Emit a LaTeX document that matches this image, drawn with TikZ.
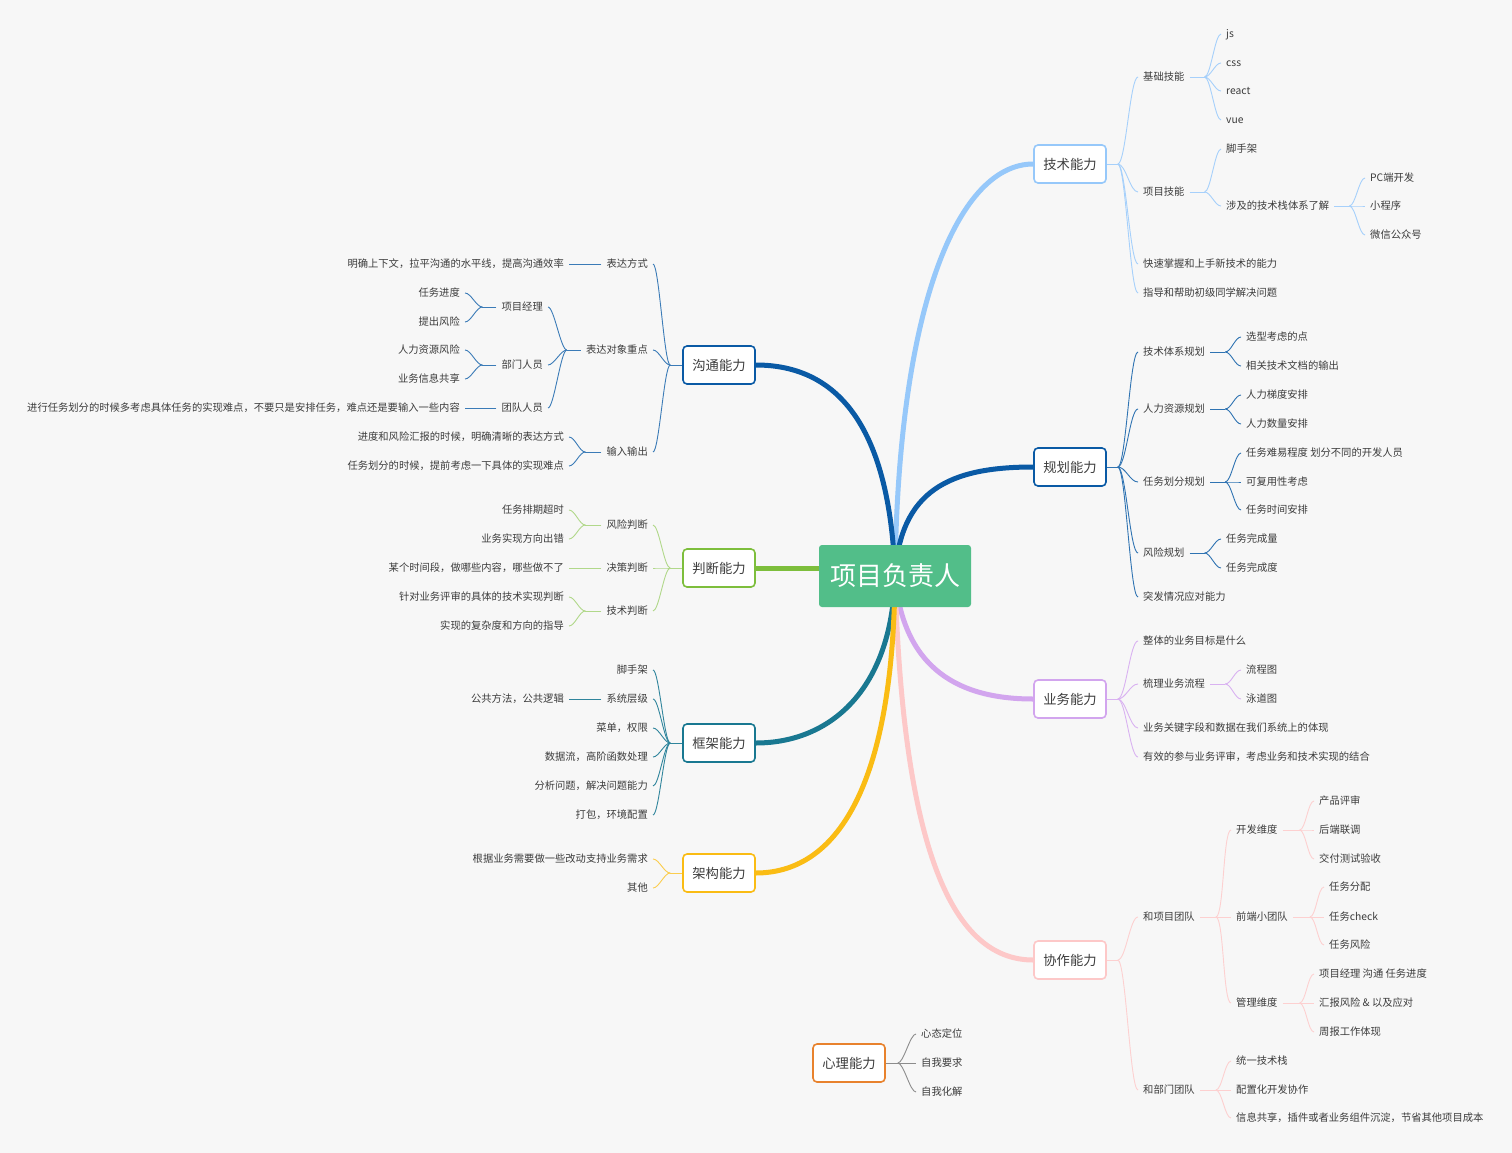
\documentclass[tikz,border=0pt]{standalone}
\usepackage{fontspec}
\setmainfont{Noto Sans CJK SC}
\usepackage{xcolor}
\definecolor{bgcol}{RGB}{247,247,247}
\definecolor{rootgreen}{RGB}{82,190,137}
\definecolor{techblue}{RGB}{150,200,250}
\definecolor{darkblue}{RGB}{10,90,165}
\definecolor{judgegreen}{RGB}{125,190,60}
\definecolor{frameteal}{RGB}{25,120,145}
\definecolor{archyellow}{RGB}{250,188,20}
\definecolor{bizpurple}{RGB}{210,165,238}
\definecolor{coppink}{RGB}{253,200,200}
\definecolor{mindorange}{RGB}{232,130,45}
\definecolor{txtgray}{RGB}{60,60,60}
\usepackage{tikz}
\usetikzlibrary{positioning,calc,backgrounds}
\tikzset{
  rootbox/.style={rectangle,rounded corners=3pt,fill=rootgreen,text=white,
    minimum width=152pt,minimum height=62pt,font=\fontsize{26}{30}\selectfont},
  topic/.style={rectangle,rounded corners=4pt,draw=#1,fill=white,line width=1.6pt,
    text=txtgray,minimum width=72pt,minimum height=38pt,font=\fontsize{13.3}{16}\selectfont},
  rt/.style={anchor=west,inner xsep=5pt,inner ysep=1pt,text height=9pt,text depth=2.2pt,
    text=txtgray,font=\fontsize{10.3}{12}\selectfont},
  lf/.style={rt,anchor=east},
  trunk/.style={line width=5pt,line cap=round},
  brR/.style={to path={.. controls ($(\tikztostart)+(#1,0)$) and ($(\tikztotarget)+(-#1,0)$) .. (\tikztotarget)}},
  brR/.default=8,
  brL/.style={to path={.. controls ($(\tikztostart)+(-#1,0)$) and ($(\tikztotarget)+(#1,0)$) .. (\tikztotarget)}},
  brL/.default=8,
  lT/.style={draw=techblue!85,line width=0.9pt},
  lP/.style={draw=darkblue!85,line width=0.9pt},
  lB/.style={draw=bizpurple!85,line width=0.9pt},
  lO/.style={draw=coppink!85,line width=0.9pt},
  lC/.style={draw=darkblue!80,line width=0.9pt},
  lJ/.style={draw=judgegreen!60,line width=0.9pt},
  lF/.style={draw=frameteal!90,line width=0.9pt},
  lA/.style={draw=archyellow!75,line width=0.9pt},
  lM/.style={draw=black!45,line width=0.9pt},
}
\begin{document}
\begin{tikzpicture}[x=1pt,y=-1pt]
  \useasboundingbox (0,0) rectangle (1512,1153);
  % --- centre ---
  \node[rootbox] (root) at (895,576) {项目负责人};
  % --- main topics ---
  \node[topic=techblue]   (tech)  at (1070,164) {技术能力};
  \node[topic=darkblue]   (plan)  at (1070,467) {规划能力};
  \node[topic=bizpurple]  (biz)   at (1070,699) {业务能力};
  \node[topic=coppink]    (coop)  at (1070,960) {协作能力};
  \node[topic=darkblue]   (comm)  at (719,365)  {沟通能力};
  \node[topic=judgegreen] (judge) at (719,568)  {判断能力};
  \node[topic=frameteal]  (frame) at (719,743)  {框架能力};
  \node[topic=archyellow] (arch)  at (719,873)  {架构能力};
  \node[topic=mindorange] (mind)  at (849,1063) {心理能力};

  % --- 技术能力 ---
  \node[rt] (t1) at (1138,77)  {基础技能};
  \node[rt] (t2) at (1138,192) {项目技能};
  \node[rt] (t3) at (1138,264) {快速掌握和上手新技术的能力};
  \node[rt] (t4) at (1138,293) {指导和帮助初级同学解决问题};
  \foreach \n/\y in {js/34,css/63,react/91,vue/120}{
    \node[rt] (\n) at (1221,\y) {\n};}
  \node[rt] (t21) at (1221,149) {脚手架};
  \node[rt] (t22) at (1221,206) {涉及的技术栈体系了解};
  \node[rt] (pc) at (1365,178) {PC端开发};
  \node[rt] (mp) at (1365,206) {小程序};
  \node[rt] (wx) at (1365,235) {微信公众号};
  \draw[lT] (tech.east) -- ++(11,0) coordinate (fT);
  \foreach \c in {t1,t2,t3,t4}{\draw[lT,brR] (fT) to (\c.west);}
  \draw[lT] (t1.east) -- ++(15,0) coordinate (fT1);
  \foreach \c in {js,css,react,vue}{\draw[lT,brR=6] (fT1) to (\c.west);}
  \draw[lT] (t2.east) -- ++(15,0) coordinate (fT2);
  \foreach \c in {t21,t22}{\draw[lT,brR=6] (fT2) to (\c.west);}
  \draw[lT] (t22.east) -- ++(15,0) coordinate (fT22);
  \foreach \c in {pc,mp,wx}{\draw[lT,brR=6] (fT22) to (\c.west);}

  % --- 规划能力 ---
  \node[rt] (p1) at (1138,352) {技术体系规划};
  \node[rt] (p2) at (1138,409) {人力资源规划};
  \node[rt] (p3) at (1138,482) {任务划分规划};
  \node[rt] (p4) at (1138,553) {风险规划};
  \node[rt] (p5) at (1138,597) {突发情况应对能力};
  \node[rt] (p11) at (1241,337) {选型考虑的点};
  \node[rt] (p12) at (1241,366) {相关技术文档的输出};
  \node[rt] (p21) at (1241,395) {人力梯度安排};
  \node[rt] (p22) at (1241,424) {人力数量安排};
  \node[rt] (p31) at (1241,453) {任务难易程度 划分不同的开发人员};
  \node[rt] (p32) at (1241,482) {可复用性考虑};
  \node[rt] (p33) at (1241,510) {任务时间安排};
  \node[rt] (p41) at (1221,539) {任务完成量};
  \node[rt] (p42) at (1221,568) {任务完成度};
  \draw[lP] (plan.east) -- ++(11,0) coordinate (fP);
  \foreach \c in {p1,p2,p3,p4,p5}{\draw[lP,brR] (fP) to (\c.west);}
  \draw[lP] (p1.east) -- ++(15,0) coordinate (fP1);
  \foreach \c in {p11,p12}{\draw[lP,brR=6] (fP1) to (\c.west);}
  \draw[lP] (p2.east) -- ++(15,0) coordinate (fP2);
  \foreach \c in {p21,p22}{\draw[lP,brR=6] (fP2) to (\c.west);}
  \draw[lP] (p3.east) -- ++(15,0) coordinate (fP3);
  \foreach \c in {p31,p32,p33}{\draw[lP,brR=6] (fP3) to (\c.west);}
  \draw[lP] (p4.east) -- ++(15,0) coordinate (fP4);
  \foreach \c in {p41,p42}{\draw[lP,brR=6] (fP4) to (\c.west);}

  % --- 业务能力 ---
  \node[rt] (b1) at (1138,641) {整体的业务目标是什么};
  \node[rt] (b2) at (1138,684) {梳理业务流程};
  \node[rt] (b3) at (1138,728) {业务关键字段和数据在我们系统上的体现};
  \node[rt] (b4) at (1138,757) {有效的参与业务评审，考虑业务和技术实现的结合};
  \node[rt] (b21) at (1241,670) {流程图};
  \node[rt] (b22) at (1241,699) {泳道图};
  \draw[lB] (biz.east) -- ++(11,0) coordinate (fB);
  \foreach \c in {b1,b2,b3,b4}{\draw[lB,brR] (fB) to (\c.west);}
  \draw[lB] (b2.east) -- ++(15,0) coordinate (fB2);
  \foreach \c in {b21,b22}{\draw[lB,brR=6] (fB2) to (\c.west);}

  % --- 协作能力 ---
  \node[rt] (o1) at (1138,917)  {和项目团队};
  \node[rt] (o2) at (1138,1090) {和部门团队};
  \node[rt] (o11) at (1231,830)  {开发维度};
  \node[rt] (o12) at (1231,917)  {前端小团队};
  \node[rt] (o13) at (1231,1003) {管理维度};
  \node[rt] (o111) at (1314,801) {产品评审};
  \node[rt] (o112) at (1314,830) {后端联调};
  \node[rt] (o113) at (1314,859) {交付测试验收};
  \node[rt] (o121) at (1324,887) {任务分配};
  \node[rt] (o122) at (1324,917) {任务check};
  \node[rt] (o123) at (1324,945) {任务风险};
  \node[rt] (o131) at (1314,974)  {项目经理 沟通 任务进度};
  \node[rt] (o132) at (1314,1003) {汇报风险 \& 以及应对};
  \node[rt] (o133) at (1314,1032) {周报工作体现};
  \node[rt] (o21) at (1231,1061) {统一技术栈};
  \node[rt] (o22) at (1231,1090) {配置化开发协作};
  \node[rt] (o23) at (1231,1118) {信息共享，插件或者业务组件沉淀，节省其他项目成本};
  \draw[lO] (coop.east) -- ++(11,0) coordinate (fO);
  \foreach \c in {o1,o2}{\draw[lO,brR] (fO) to (\c.west);}
  \draw[lO] (o1.east) -- ++(16,0) coordinate (fO1);
  \foreach \c in {o11,o12,o13}{\draw[lO,brR] (fO1) to (\c.west);}
  \draw[lO] (o11.east) -- ++(17,0) coordinate (fO11);
  \foreach \c in {o111,o112,o113}{\draw[lO,brR=6] (fO11) to (\c.west);}
  \draw[lO] (o12.east) -- ++(17,0) coordinate (fO12);
  \foreach \c in {o121,o122,o123}{\draw[lO,brR=6] (fO12) to (\c.west);}
  \draw[lO] (o13.east) -- ++(17,0) coordinate (fO13);
  \foreach \c in {o131,o132,o133}{\draw[lO,brR=6] (fO13) to (\c.west);}
  \draw[lO] (o2.east) -- ++(16,0) coordinate (fO2);
  \foreach \c in {o21,o22,o23}{\draw[lO,brR=6] (fO2) to (\c.west);}

  % --- 沟通能力 ---
  \node[lf] (c1) at (653,264) {表达方式};
  \node[lf] (c2) at (653,350) {表达对象重点};
  \node[lf] (c3) at (653,452) {输入输出};
  \node[lf] (c11) at (569,264) {明确上下文，拉平沟通的水平线，提高沟通效率};
  \node[lf] (c21) at (548,307) {项目经理};
  \node[lf] (c22) at (548,365) {部门人员};
  \node[lf] (c23) at (548,408) {团队人员};
  \node[lf] (c211) at (465,293) {任务进度};
  \node[lf] (c212) at (465,322) {提出风险};
  \node[lf] (c221) at (465,350) {人力资源风险};
  \node[lf] (c222) at (465,379) {业务信息共享};
  \node[lf] (c231) at (465,408) {进行任务划分的时候多考虑具体任务的实现难点，不要只是安排任务，难点还是要输入一些内容};
  \node[lf] (c31) at (569,437) {进度和风险汇报的时候，明确清晰的表达方式};
  \node[lf] (c32) at (569,466) {任务划分的时候，提前考虑一下具体的实现难点};
  \draw[lC] (comm.west) -- ++(-12,0) coordinate (fC);
  \foreach \c in {c1,c2,c3}{\draw[lC,brL=6] (fC) to (\c.east);}
  \draw[lC] (c1.west) -- (c11.east);
  \draw[lC] (c2.west) -- ++(-14,0) coordinate (fC2);
  \foreach \c in {c21,c22,c23}{\draw[lC,brL=6] (fC2) to (\c.east);}
  \draw[lC] (c21.west) -- ++(-14,0) coordinate (fC21);
  \foreach \c in {c211,c212}{\draw[lC,brL=6] (fC21) to (\c.east);}
  \draw[lC] (c22.west) -- ++(-14,0) coordinate (fC22);
  \foreach \c in {c221,c222}{\draw[lC,brL=6] (fC22) to (\c.east);}
  \draw[lC] (c23.west) -- (c231.east);
  \draw[lC] (c3.west) -- ++(-16,0) coordinate (fC3);
  \foreach \c in {c31,c32}{\draw[lC,brL=6] (fC3) to (\c.east);}

  % --- 判断能力 ---
  \node[lf] (j1) at (653,525) {风险判断};
  \node[lf] (j2) at (653,568) {决策判断};
  \node[lf] (j3) at (653,611) {技术判断};
  \node[lf] (j11) at (569,510) {任务排期超时};
  \node[lf] (j12) at (569,539) {业务实现方向出错};
  \node[lf] (j21) at (569,568) {某个时间段，做哪些内容，哪些做不了};
  \node[lf] (j31) at (569,597) {针对业务评审的具体的技术实现判断};
  \node[lf] (j32) at (569,626) {实现的复杂度和方向的指导};
  \draw[lJ] (judge.west) -- ++(-12,0) coordinate (fJ);
  \foreach \c in {j1,j2,j3}{\draw[lJ,brL=6] (fJ) to (\c.east);}
  \draw[lJ] (j1.west) -- ++(-16,0) coordinate (fJ1);
  \foreach \c in {j11,j12}{\draw[lJ,brL=6] (fJ1) to (\c.east);}
  \draw[lJ] (j2.west) -- (j21.east);
  \draw[lJ] (j3.west) -- ++(-16,0) coordinate (fJ3);
  \foreach \c in {j31,j32}{\draw[lJ,brL=6] (fJ3) to (\c.east);}

  % --- 框架能力 ---
  \node[lf] (f1) at (653,670) {脚手架};
  \node[lf] (f2) at (653,699) {系统层级};
  \node[lf] (f3) at (653,728) {菜单，权限};
  \node[lf] (f4) at (653,757) {数据流，高阶函数处理};
  \node[lf] (f5) at (653,786) {分析问题，解决问题能力};
  \node[lf] (f6) at (653,815) {打包，环境配置};
  \node[lf] (f21) at (569,699) {公共方法，公共逻辑};
  \draw[lF] (frame.west) -- ++(-12,0) coordinate (fF);
  \foreach \c in {f1,f2,f3,f4,f5,f6}{\draw[lF,brL=6] (fF) to (\c.east);}
  \draw[lF] (f2.west) -- (f21.east);

  % --- 架构能力 ---
  \node[lf] (a1) at (653,859) {根据业务需要做一些改动支持业务需求};
  \node[lf] (a2) at (653,888) {其他};
  \draw[lA] (arch.west) -- ++(-12,0) coordinate (fA);
  \foreach \c in {a1,a2}{\draw[lA,brL=6] (fA) to (\c.east);}

  % --- 心理能力 ---
  \node[rt] (m1) at (916,1034) {心态定位};
  \node[rt] (m2) at (916,1063) {自我要求};
  \node[rt] (m3) at (916,1092) {自我化解};
  \draw[lM] (mind.east) -- ++(12,0) coordinate (fM);
  \foreach \c in {m1,m2,m3}{\draw[lM,brR=6] (fM) to (\c.west);}

  % --- background and trunks ---
  \begin{scope}[on background layer]
    \fill[bgcol] (0,0) rectangle (1512,1153);
    \draw[trunk,techblue]   (root.center) .. controls (898,300) and (960,164) .. (tech.west);
    \draw[trunk,darkblue]   (root.center) .. controls (900,490) and (950,467) .. (plan.west);
    \draw[trunk,bizpurple]  (root.center) .. controls (903,670) and (960,699) .. (biz.west);
    \draw[trunk,coppink]    (root.center) .. controls (903,870) and (960,960) .. (coop.west);
    \draw[trunk,darkblue]   (root.center) .. controls (890,430) and (840,365) .. (comm.east);
    \draw[trunk,judgegreen] (judge.east) -- (judge.east -| root.center);
    \draw[trunk,frameteal]  (root.center) .. controls (892,690) and (830,743) .. (frame.east);
    \draw[trunk,archyellow] (root.center) .. controls (893,800) and (830,873) .. (arch.east);
  \end{scope}
\end{tikzpicture}
\end{document}
